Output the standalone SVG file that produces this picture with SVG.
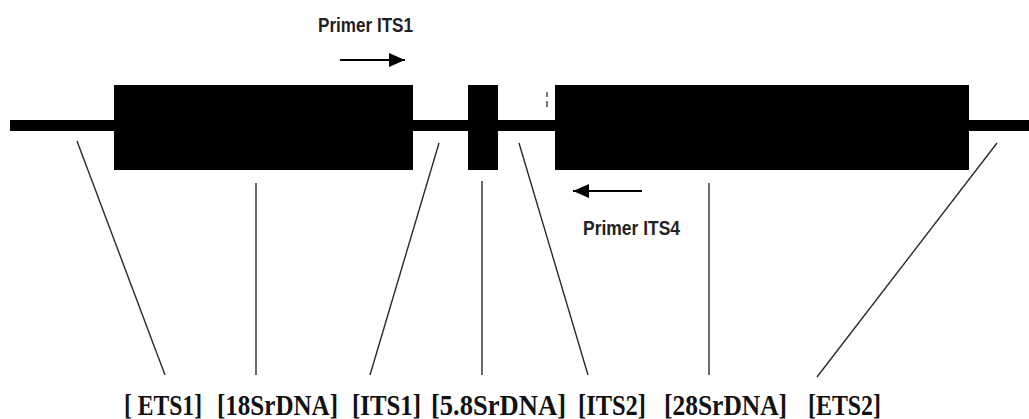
<svg xmlns="http://www.w3.org/2000/svg" width="1029" height="419" viewBox="0 0 1029 419">
<style>
.blk{fill:#000}
.lead{stroke:#2a2a2a;stroke-width:1.4;fill:none}
.lbl{font-family:"Liberation Serif","DejaVu Serif",serif;font-weight:bold;font-size:29px;fill:#111}
.pr{font-family:"Liberation Sans","DejaVu Sans",sans-serif;font-weight:bold;font-size:21px;fill:#222}
.arr{stroke:#000;stroke-width:2;fill:none}
</style>
<defs>
<marker id="ahb" markerWidth="16" markerHeight="14" refX="16" refY="7" orient="auto" markerUnits="userSpaceOnUse">
<path d="M0,0 L16,7 L0,14 Z" fill="#000"/>
</marker>
</defs>
<rect width="1029" height="419" fill="#fff"/>
<g id="backbone">
<rect class="blk" x="10" y="120" width="1019" height="11"/>
</g>
<g id="node-18S"><rect class="blk" x="114" y="85" width="299" height="85"/></g>
<g id="node-5.8S"><rect class="blk" x="468" y="85" width="30" height="85"/></g>
<g id="node-28S"><rect class="blk" x="555" y="85" width="414" height="85"/></g>
<g id="mark"><rect x="546" y="92" width="2" height="5" fill="#777"/><rect x="546" y="101" width="2" height="6" fill="#777"/></g>
<g id="connectors">
<line class="lead" x1="77" y1="141" x2="165" y2="375"/>
<line class="lead" x1="256" y1="183" x2="256" y2="375"/>
<line class="lead" x1="439" y1="143" x2="370" y2="375"/>
<line class="lead" x1="482" y1="181" x2="482" y2="375"/>
<line class="lead" x1="519" y1="143" x2="588" y2="375"/>
<line class="lead" x1="709" y1="183" x2="709" y2="375"/>
<line class="lead" x1="997" y1="143" x2="817" y2="377"/>
<line class="arr" x1="340" y1="60" x2="405" y2="60" marker-end="url(#ahb)"/>
<line class="arr" x1="642" y1="191" x2="573" y2="191" marker-end="url(#ahb)"/>
</g>
<g id="primer-its1"><text class="pr" x="318" y="32" textLength="95" lengthAdjust="spacingAndGlyphs">Primer ITS1</text></g>
<g id="primer-its4"><text class="pr" x="583" y="235" textLength="97" lengthAdjust="spacingAndGlyphs">Primer ITS4</text></g>
<g id="labels">
<text class="lbl" x="124" y="415" textLength="78" lengthAdjust="spacingAndGlyphs">[ ETS1]</text>
<text class="lbl" x="217" y="415" textLength="121" lengthAdjust="spacingAndGlyphs">[18SrDNA]</text>
<text class="lbl" x="352" y="415" textLength="69" lengthAdjust="spacingAndGlyphs">[ITS1]</text>
<text class="lbl" x="431" y="415" textLength="135" lengthAdjust="spacingAndGlyphs">[5.8SrDNA]</text>
<text class="lbl" x="578" y="415" textLength="68" lengthAdjust="spacingAndGlyphs">[ITS2]</text>
<text class="lbl" x="664" y="415" textLength="123" lengthAdjust="spacingAndGlyphs">[28SrDNA]</text>
<text class="lbl" x="808" y="415" textLength="73" lengthAdjust="spacingAndGlyphs">[ETS2]</text>
</g>
</svg>
